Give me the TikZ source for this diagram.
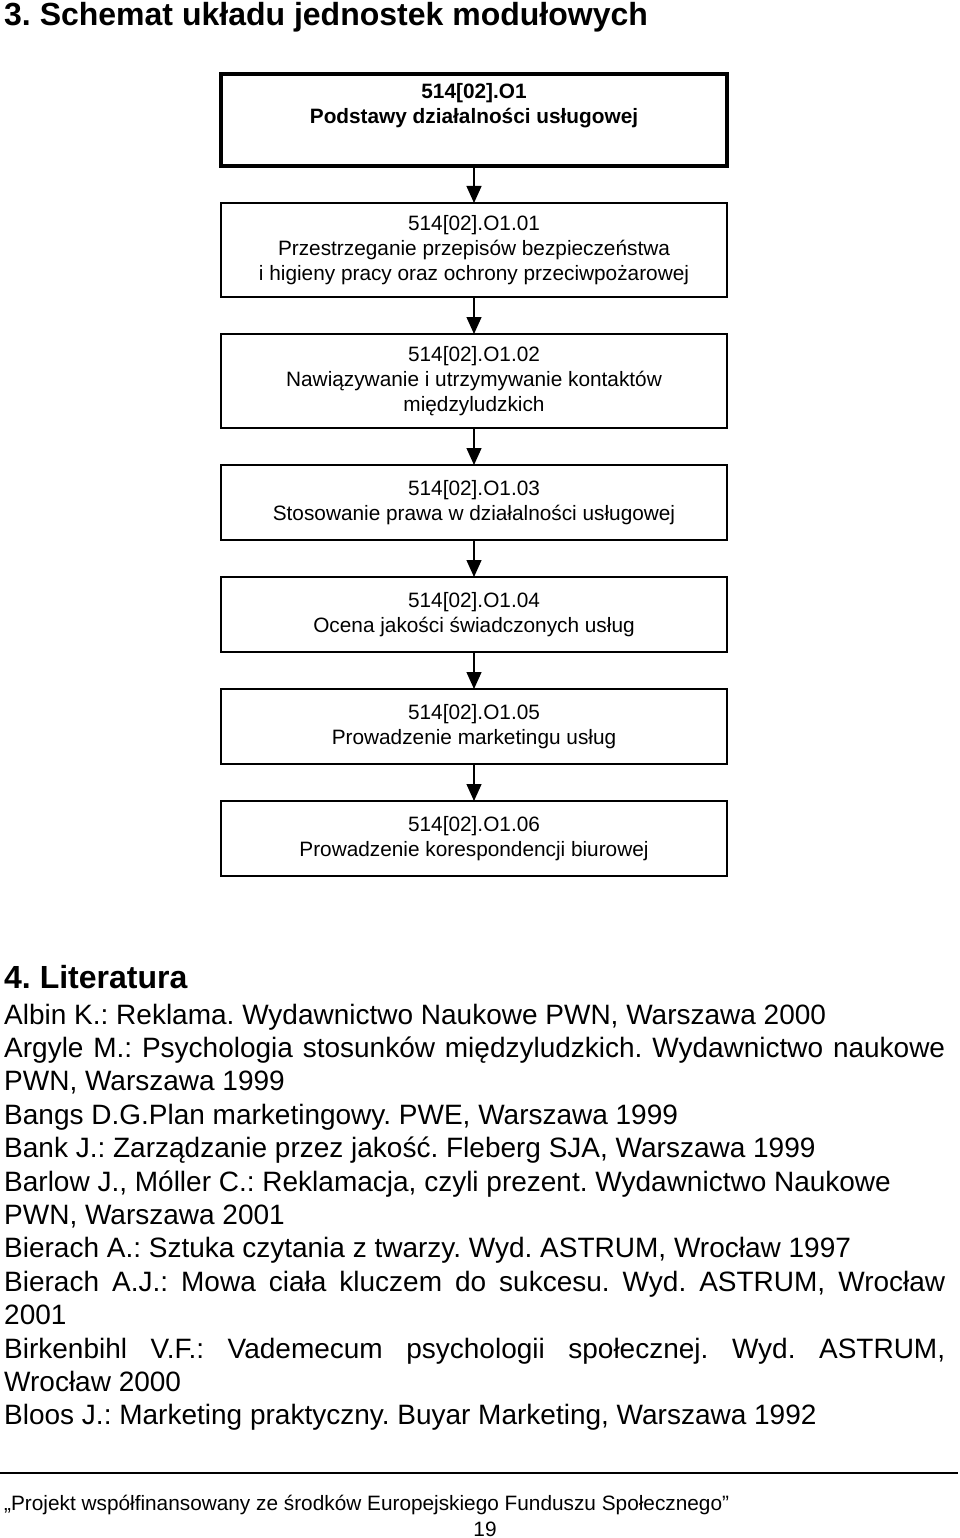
\documentclass[tikz,border=0pt]{standalone}
\usepackage{fontspec}
\setmainfont{Liberation Sans}
\usetikzlibrary{positioning,arrows.meta}
\frenchspacing

\newcommand\fullline[1]{\makebox[941pt][s]{#1}}

\tikzset{
  modbox/.style={draw=black, line width=1.3pt, outer sep=0pt, minimum width=506pt,
    minimum height=75pt, align=center, font=\fontsize{20.8}{25}\selectfont},
  tallbox/.style={modbox, minimum height=94pt},
  topbox/.style={modbox, line width=4pt, minimum height=92pt,
    font=\fontsize{20.8}{25}\selectfont\bfseries},
  flow/.style={line width=1.3pt, -{Triangle[width=15pt,length=17pt]}},
  plain/.style={anchor=base west, inner sep=0pt},
}

\begin{document}
\begin{tikzpicture}[x=1pt, y=-1pt, node distance=37pt]
\useasboundingbox (0,0) rectangle (960,1538);
\node[plain, font=\fontsize{32}{38}\selectfont\bfseries] (title) at (4,26) {3. Schemat układu jednostek modułowych};

% modules
\node[topbox]   (m0) at (474,120)    {514[02].O1\\Podstawy działalności usługowej\\\strut};
\node[tallbox]  (m1) [below=of m0]   {514[02].O1.01\\Przestrzeganie przepisów bezpieczeństwa\\i higieny pracy oraz ochrony przeciwpożarowej};
\node[tallbox]  (m2) [below=of m1]   {514[02].O1.02\\Nawiązywanie i utrzymywanie kontaktów\\międzyludzkich};
\node[modbox]   (m3) [below=of m2]   {514[02].O1.03\\Stosowanie prawa w działalności usługowej};
\node[modbox]   (m4) [below=of m3]   {514[02].O1.04\\Ocena jakości świadczonych usług};
\node[modbox]   (m5) [below=of m4]   {514[02].O1.05\\Prowadzenie marketingu usług};
\node[modbox]   (m6) [below=of m5]   {514[02].O1.06\\Prowadzenie korespondencji biurowej};
\draw[flow] (m0) -- (m1);
\draw[flow] (m1) -- (m2);
\draw[flow] (m2) -- (m3);
\draw[flow] (m3) -- (m4);
\draw[flow] (m4) -- (m5);
\draw[flow] (m5) -- (m6);

% literature
\node[plain, font=\fontsize{32}{38}\selectfont\bfseries] (lithead) at (4,988) {4. Literatura};
\foreach \entry [count=\i from 0] in {
  {Albin K.: Reklama. Wydawnictwo Naukowe PWN, Warszawa 2000},
  {\fullline{Argyle M.: Psychologia stosunków międzyludzkich. Wydawnictwo naukowe}},
  {PWN, Warszawa 1999},
  {Bangs D.G.Plan marketingowy. PWE, Warszawa 1999},
  {Bank J.: Zarządzanie przez jakość. Fleberg SJA, Warszawa 1999},
  {Barlow J., Móller C.: Reklamacja, czyli prezent. Wydawnictwo Naukowe},
  {PWN, Warszawa 2001},
  {Bierach A.: Sztuka czytania z twarzy. Wyd. ASTRUM, Wrocław 1997},
  {\fullline{Bierach A.J.: Mowa ciała kluczem do sukcesu. Wyd. ASTRUM, Wrocław}},
  {2001},
  {\fullline{Birkenbihl V.F.: Vademecum psychologii społecznej. Wyd. ASTRUM,}},
  {Wrocław 2000},
  {Bloos J.: Marketing praktyczny. Buyar Marketing, Warszawa 1992}}
  \node[plain, font=\fontsize{28}{33}\selectfont] (lit\i) at (4,1024+33.4*\i) {\entry};

% footer
\draw[line width=2pt] (0,1473) -- (958,1473);
\node[plain, font=\fontsize{20.8}{25}\selectfont] (fund) at (4,1510) {„Projekt współfinansowany ze środków Europejskiego Funduszu Społecznego”};
\node[anchor=base, inner sep=0pt, font=\fontsize{20.8}{25}\selectfont] (page) at (485,1536) {19};
\end{tikzpicture}
\end{document}
